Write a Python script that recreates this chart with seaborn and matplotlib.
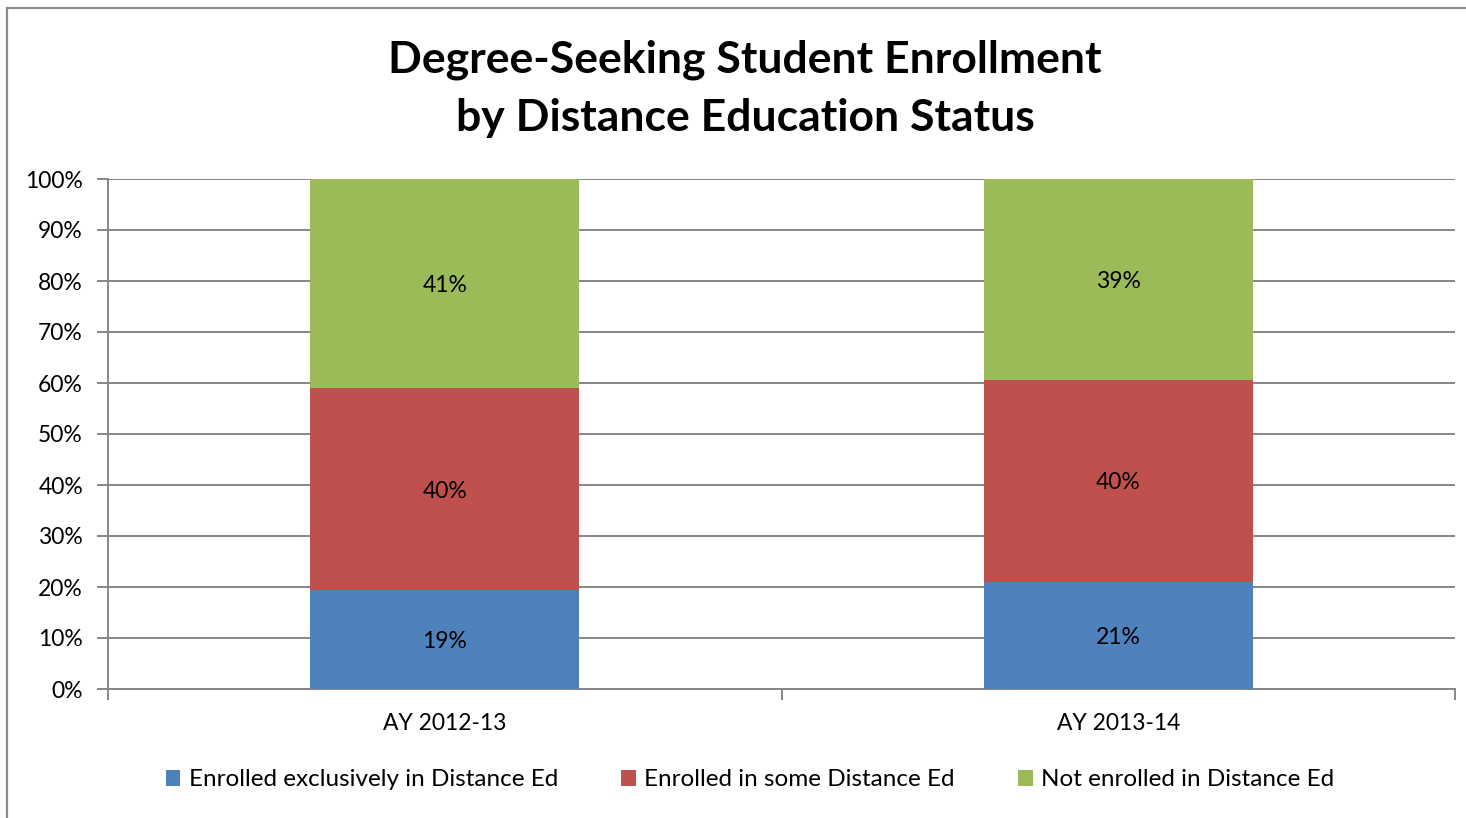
import pandas as pd
import seaborn as sns
import matplotlib.pyplot as plt
from matplotlib.patches import Patch, Rectangle
from matplotlib.ticker import PercentFormatter

years = ["AY 2012-13", "AY 2013-14"]
series = ["Enrolled exclusively in Distance Ed",
          "Enrolled in some Distance Ed",
          "Not enrolled in Distance Ed"]
exclusive = [19.4, 21.0]
some = [39.6, 39.6]
not_enrolled = [41.0, 39.4]
colors = ["#4F81BD", "#C0504D", "#9BBB59"]


def make_df():
    df = pd.DataFrame({"year": years, series[0]: exclusive,
                       series[1]: some, series[2]: not_enrolled})
    return df


def make_plot(df, output):
    sns.set_theme(style="white")
    plt.rcParams['font.family'] = ['Lato', 'DejaVu Sans']
    plt.rcParams['text.color'] = 'black'
    plt.rcParams['xtick.color'] = 'black'
    plt.rcParams['ytick.color'] = 'black'
    fig = plt.figure(figsize=(14.66, 8.18), dpi=100)
    ax = fig.add_axes([108 / 1466, 1 - 689 / 818, 1347 / 1466, 510 / 818])

    # stacked bars: draw cumulative totals from the top segment down
    cum = df[series].cumsum(axis=1)
    for s, c in reversed(list(zip(series, colors))):
        sns.barplot(x=df["year"], y=cum[s], color=c, width=0.4,
                    saturation=1, ax=ax, zorder=3, linewidth=0)

    # segment labels
    for i in range(len(df)):
        bottom = 0
        for s in series:
            v = df[s].iloc[i]
            ax.text(i, bottom + v / 2, "{:.0f}%".format(v), ha='center',
                    va='center_baseline', fontsize=16.5, color='black',
                    zorder=4)
            bottom += v

    ax.set_xlim(-0.5, 1.5)
    ax.set_ylim(0, 100)
    ax.set_yticks(range(0, 101, 10))
    ax.yaxis.set_major_formatter(PercentFormatter(decimals=0))
    ax.set_xlabel('')
    ax.set_ylabel('')
    ax.grid(axis='y', color='#868686', linewidth=1.4, zorder=0)
    ax.set_axisbelow(True)
    for side in ['top', 'right']:
        ax.spines[side].set_visible(False)
    for side in ['left', 'bottom']:
        ax.spines[side].set_color('#868686')
        ax.spines[side].set_linewidth(1.4)
    ax.set_xticks([-0.5, 0.5, 1.5], minor=False)
    ax.set_xticklabels([])
    ax.set_xticks([0, 1], minor=True)
    ax.set_xticklabels(years, minor=True)
    ax.tick_params(axis='x', which='major', length=8, width=1.4,
                   color='#868686', bottom=True, direction='out')
    ax.tick_params(axis='x', which='minor', length=0, pad=17,
                   labelsize=16.5, labelcolor='black')
    ax.tick_params(axis='y', length=8, width=1.4, color='#868686',
                   left=True, direction='out', labelsize=16.5, pad=10,
                   labelcolor='black')

    fig.text(745 / 1466, 1 - 60 / 818, "Degree-Seeking Student Enrollment",
             ha='center', va='center', fontsize=32, fontweight='bold')
    fig.text(745 / 1466, 1 - 118 / 818, "by Distance Education Status",
             ha='center', va='center', fontsize=32, fontweight='bold')

    handles = [Patch(facecolor=c, edgecolor='none') for c in colors]
    fig.legend(handles, series, loc='center', ncol=3,
               bbox_to_anchor=(750 / 1466, 1 - 780 / 818), frameon=False,
               fontsize=17.5, handlelength=0.6, handleheight=0.6,
               handletextpad=0.35, columnspacing=2.6)

    # outer chart border (cropped on the right and bottom)
    fig.patches.append(Rectangle((7 / 1466, -0.1), 1.2, 1 - 8 / 818 + 0.1,
                                 transform=fig.transFigure, fill=False,
                                 edgecolor='#8c8c8c', linewidth=1.6))

    fig.savefig(output, dpi=100)
    plt.close(fig)


def main():
    df = make_df()
    make_plot(df, "out.png")


if __name__ == '__main__':
    main()
